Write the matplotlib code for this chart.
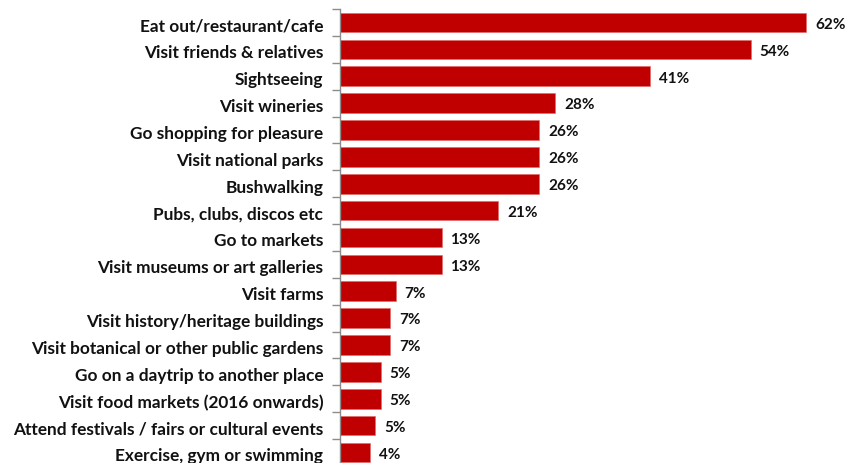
import matplotlib
matplotlib.use("Agg")
import matplotlib.pyplot as plt
import numpy as np

categories = [
    "Eat out/restaurant/cafe",
    "Visit friends & relatives",
    "Sightseeing",
    "Visit wineries",
    "Go shopping for pleasure",
    "Visit national parks",
    "Bushwalking",
    "Pubs, clubs, discos etc",
    "Go to markets",
    "Visit museums or art galleries",
    "Visit farms",
    "Visit history/heritage buildings",
    "Visit botanical or other public gardens",
    "Go on a daytrip to another place",
    "Visit food markets (2016 onwards)",
    "Attend festivals / fairs or cultural events",
    "Exercise, gym or swimming",
]
values = [62.0, 54.6, 41.2, 28.6, 26.5, 26.5, 26.5, 21.0, 13.5, 13.5,
          7.4, 6.7, 6.7, 5.4, 5.4, 4.7, 4.0]
value_labels = ["62%", "54%", "41%", "28%", "26%", "26%", "26%", "21%", "13%", "13%",
                "7%", "7%", "7%", "5%", "5%", "5%", "4%"]

FONT = ["Lato", "DejaVu Sans"]
plt.rcParams['font.family'] = FONT

fig = plt.figure(figsize=(8.64, 4.64), dpi=100)
ax = fig.add_axes([340/864, 1 - 467/464, 524/864, 457/464])

n = len(categories)
y = np.arange(n)
ax.barh(y, values, height=0.73, color="#C00000", edgecolor="#E06666", linewidth=0.4)
ax.set_ylim(n - 0.5, -0.5)
ax.set_xlim(0, 524/7.52)

for yi, v, lab in zip(y, values, value_labels):
    ax.text(v + 1.2, yi + 0.05, lab, va="center", ha="left", fontsize=11,
            fontweight="bold", color="#111111")

ax.set_yticks(y + 0.05)
ax.set_yticklabels(categories, fontsize=12.4, fontweight="bold", color="#111111")
ax.tick_params(axis="y", which="major", length=0, pad=12)
ax.set_yticks(np.arange(-0.5, n, 1.0), minor=True)
ax.tick_params(axis="y", which="minor", length=6, color="#8c8c8c", width=1)
ax.set_xticks([])
for s in ["top", "right", "bottom"]:
    ax.spines[s].set_visible(False)
ax.spines["left"].set_color("#8c8c8c")
ax.spines["left"].set_linewidth(1)

fig.savefig("out.png", dpi=100)
